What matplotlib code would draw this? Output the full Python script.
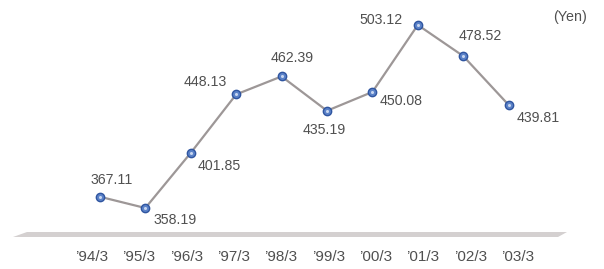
import matplotlib.pyplot as plt
from matplotlib.patches import Polygon

plt.rcParams['font.family'] = ['Liberation Sans', 'DejaVu Sans']

periods = ["’94/3", "’95/3", "’96/3", "’97/3", "’98/3", "’99/3", "’00/3", "’01/3", "’02/3", "’03/3"]
prices = [367.11, 358.19, 401.85, 448.13, 462.39, 435.19, 450.08, 503.12, 478.52, 439.81]

# label offsets in pixels (dx, dy) and alignment for each point
label_pos = [(12, 17, 'center'), (8, -12, 'left'), (7, -13, 'left'), (-9, 12, 'right'),
             (-11, 18, 'left'), (-3, -19, 'center'), (7, -9, 'left'), (-15, 5, 'right'),
             (17, 20, 'center'), (8, -13, 'left')]

W, H = 604, 269
fig = plt.figure(figsize=(6.04, 2.69), dpi=100)
ax = fig.add_axes([0, 0, 1, 1])
ax.set_xlim(-2.20, 11.10)
ax.set_ylim(309.9, 522.9)
ax.axis('off')

x = list(range(len(prices)))
ax.plot(x, prices, color='#9d9797', lw=1.6, zorder=2)
ax.plot(x, prices, 'o', ms=6, mfc='#5b82c8', mec='#2f55a0', mew=1.0, zorder=3)
ax.plot(x, prices, 'o', ms=2.2, mfc='#c8d6f0', mec='none', zorder=4)

for i, v in enumerate(prices):
    dx, dy, ha = label_pos[i]
    ax.annotate(f'{v:.2f}', (i, v), xytext=(dx, dy), textcoords='offset pixels',
                ha=ha, va='center', fontsize=10.2, color='#505050')

# grey base band
band = Polygon([(13 / W, 1 - 237 / H), (27 / W, 1 - 232 / H), (567 / W, 1 - 232 / H), (558 / W, 1 - 237 / H)],
               closed=True, transform=fig.transFigure, facecolor='#d4d0d0', edgecolor='none')
fig.patches.append(band)

# category labels sit on a slightly wider pitch than the points
pitch = 47.3 / 45.4
for i, lab in enumerate(periods):
    ax.text(i * pitch - 0.18, 1 - 257 / H, lab, transform=ax.get_xaxis_transform(),
            ha='center', va='center', fontsize=11, color='#505050')

fig.text(570 / W, 1 - 17 / H, '(Yen)', ha='center', va='center', fontsize=10.3, color='#505050')

fig.savefig('out.png', dpi=100)
